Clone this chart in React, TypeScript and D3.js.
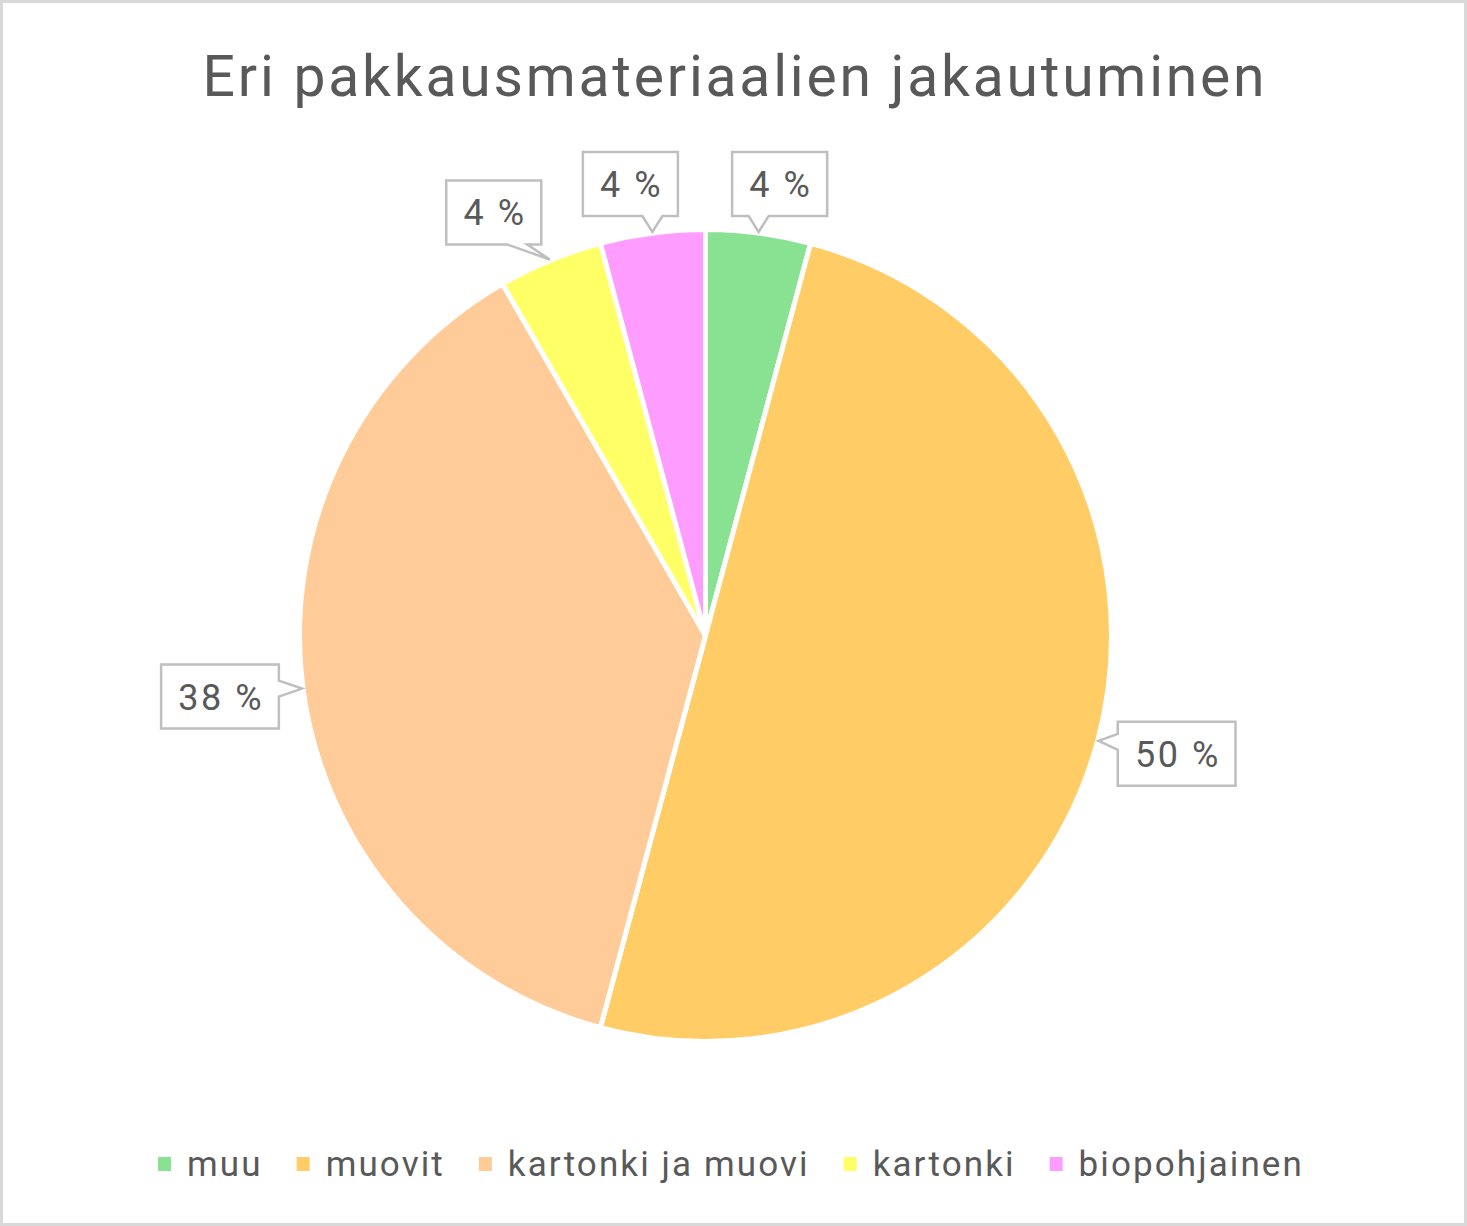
import React, { useEffect, useRef } from "react";
import * as d3 from "d3";

const categories = ["muu", "muovit", "kartonki ja muovi", "kartonki", "biopohjainen"];
const values = [1, 12, 9, 1, 1];
const colors = ["#88E291", "#FFCC66", "#FFCC99", "#FFFF66", "#FF9CFF"];
const title = "Eri pakkausmateriaalien jakautuminen";
// callout box centre offset from the slice anchor (layout only)
const calloutOffsets: [number, number][] = [
  [21, -48],
  [78, 13],
  [-82, 8],
  [-56, -47],
  [-22, -48],
];

const W = 1467;
const H = 1226;
const FONT = "Roboto, 'Open Sans', sans-serif";
const TEXT = "#595959";

export default function App() {
  const ref = useRef<SVGSVGElement>(null);

  useEffect(() => {
    const svg = d3.select(ref.current);
    svg.selectAll("*").remove();

    svg.append("rect").attr("x", 0).attr("y", 0).attr("width", W).attr("height", H).attr("fill", "#fff");
    svg
      .append("rect")
      .attr("x", 1.5)
      .attr("y", 1.5)
      .attr("width", W - 3)
      .attr("height", H - 3)
      .attr("fill", "none")
      .attr("stroke", "#d9d9d9")
      .attr("stroke-width", 3);

    svg
      .append("text")
      .attr("x", 735)
      .attr("y", 96)
      .attr("text-anchor", "middle")
      .attr("font-family", FONT)
      .attr("font-size", 57)
      .attr("letter-spacing", 2.8)
      .attr("fill", TEXT)
      .text(title);

    const cx = 705.5;
    const cy = 635.5;
    const r = 406;

    const data = categories.map((c, i) => ({ c, v: values[i], i }));
    const total = d3.sum(values);
    const pie = d3
      .pie<any>()
      .sort(null)
      .value((d) => d.v)
      .startAngle(0)
      .endAngle(2 * Math.PI);
    const arcs = pie(data);
    const arc = d3.arc<any>().innerRadius(0).outerRadius(r);

    const g = svg.append("g").attr("transform", `translate(${cx},${cy})`);
    g.selectAll("path.slice")
      .data(arcs)
      .join("path")
      .attr("class", "slice")
      .attr("d", arc as any)
      .attr("fill", (d: any) => colors[d.data.i])
      .attr("stroke", "#fff")
      .attr("stroke-width", 5)
      .attr("stroke-linejoin", "round");

    // callouts
    const lg = svg.append("g");
    arcs.forEach((a: any, k: number) => {
      const mid = (a.startAngle + a.endAngle) / 2;
      const tx = cx + (r + 1) * Math.sin(mid);
      const ty = cy - (r + 1) * Math.cos(mid);
      const label = Math.round((a.data.v / total) * 100) + " %";
      const [ox, oy] = calloutOffsets[k];
      const bx = tx + ox;
      const by = ty + oy;
      const t = lg
        .append("text")
        .attr("font-family", FONT)
        .attr("font-size", 36)
        .attr("letter-spacing", 2.5)
        .attr("fill", TEXT)
        .attr("text-anchor", "middle")
        .attr("x", bx + 1.25)
        .attr("y", by + 13)
        .text(label);
      const tw = (t.node() as SVGTextElement).getComputedTextLength();
      const bw = tw + 32;
      const bh = 64;
      const x0 = bx - bw / 2;
      const x1 = bx + bw / 2;
      const y0 = by - bh / 2;
      const y1 = by + bh / 2;
      const hw = 10;
      const m = 24;
      let p = "";
      const clamp = (v: number, lo: number, hi: number) => Math.max(lo, Math.min(hi, v));
      if (ty > y1) {
        const c = clamp(tx, x0 + m, x1 - m);
        p = `M${x0},${y0}L${x1},${y0}L${x1},${y1}L${c + hw},${y1}L${tx},${ty}L${c - hw},${y1}L${x0},${y1}Z`;
      } else if (ty < y0) {
        const c = clamp(tx, x0 + m, x1 - m);
        p = `M${x0},${y0}L${c - hw},${y0}L${tx},${ty}L${c + hw},${y0}L${x1},${y0}L${x1},${y1}L${x0},${y1}Z`;
      } else if (tx > x1) {
        const c = clamp(ty, y0 + 20, y1 - 20);
        p = `M${x0},${y0}L${x1},${y0}L${x1},${c - 8}L${tx},${ty}L${x1},${c + 8}L${x1},${y1}L${x0},${y1}Z`;
      } else {
        const c = clamp(ty, y0 + 20, y1 - 20);
        p = `M${x0},${y0}L${x1},${y0}L${x1},${y1}L${x0},${y1}L${x0},${c + 8}L${tx},${ty}L${x0},${c - 8}Z`;
      }
      lg.insert("path", "text")
        .attr("d", p)
        .attr("fill", "#fff")
        .attr("stroke", "#bfbfbf")
        .attr("stroke-width", 2.5)
        .attr("stroke-linejoin", "miter");
    });

    // legend
    const leg = svg.append("g");
    const items = categories.map((c, i) => {
      const gi = leg.append("g");
      gi.append("rect").attr("width", 13).attr("height", 14).attr("y", 1157).attr("fill", colors[i]);
      const t = gi
        .append("text")
        .attr("y", 1176)
        .attr("font-family", FONT)
        .attr("font-size", 35)
        .attr("letter-spacing", 2.1)
        .attr("fill", TEXT)
        .text(c);
      const w = (t.node() as SVGTextElement).getComputedTextLength();
      return { gi, t, w };
    });
    const sqGap = 16;
    const itemGap = 34;
    const totalW = d3.sum(items, (d) => 13 + sqGap + d.w) + itemGap * (items.length - 1);
    let x = 731 - totalW / 2;
    items.forEach((it) => {
      it.gi.select("rect").attr("x", x);
      it.t.attr("x", x + 13 + sqGap);
      x += 13 + sqGap + it.w + itemGap;
    });
  }, []);

  return (
    <div style={{ position: "absolute", left: 0, top: 0 }}>
      <svg ref={ref} width={W} height={H} style={{ display: "block" }} />
    </div>
  );
}
